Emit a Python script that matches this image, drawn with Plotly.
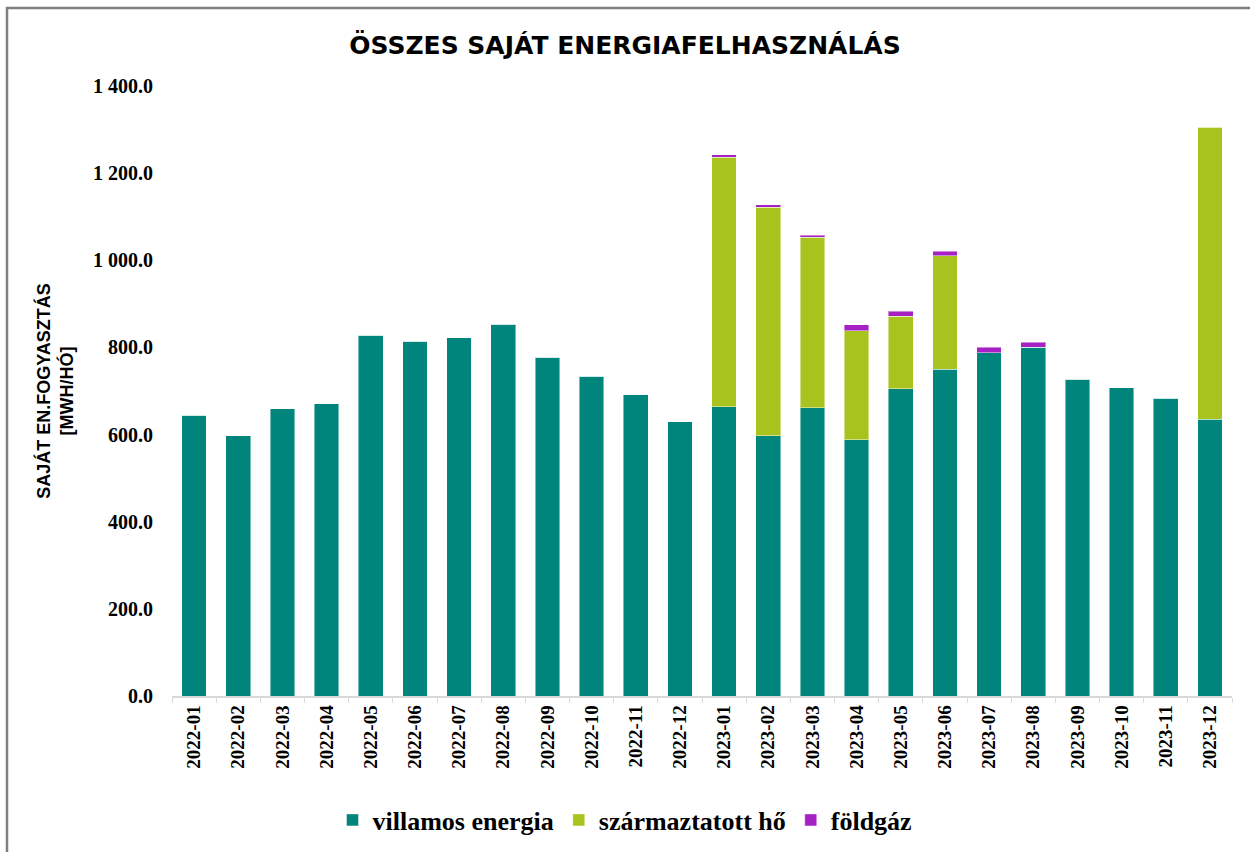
import plotly.graph_objects as go

months = ["2022-01", "2022-02", "2022-03", "2022-04", "2022-05", "2022-06",
          "2022-07", "2022-08", "2022-09", "2022-10", "2022-11", "2022-12",
          "2023-01", "2023-02", "2023-03", "2023-04", "2023-05", "2023-06",
          "2023-07", "2023-08", "2023-09", "2023-10", "2023-11", "2023-12"]

villamos_energia = [644, 597, 659, 671, 828, 814, 822, 853, 777, 734, 691, 630,
                    664, 597, 661, 588, 705, 750, 788, 800, 727, 708, 683, 635]
szarmaztatott_ho = [0, 0, 0, 0, 0, 0, 0, 0, 0, 0, 0, 0,
                    572, 525, 392, 250, 166, 260, 0, 0, 0, 0, 0, 670]
foldgaz = [0, 0, 0, 0, 0, 0, 0, 0, 0, 0, 0, 0,
           6, 5, 5, 14, 12, 11, 12, 12, 0, 0, 0, 0]

series = [
    ("villamos energia", villamos_energia, "#00857D"),
    ("származtatott hő", szarmaztatott_ho, "#A9C31E"),
    ("földgáz", foldgaz, "#A521C4"),
]

fig = go.Figure()
for name, vals, col in series:
    fig.add_trace(go.Bar(
        x=months, y=vals, name=name,
        marker=dict(color=col, line=dict(color="rgba(255,255,255,0.45)", width=1)),
        hovertemplate="%{x}: %{y:.1f}<extra>" + name + "</extra>",
    ))

W, H = 1250, 852
ml, mr, mt, mb = 172, 18, 86, 156
pw, ph = W - ml - mr, H - mt - mb

fig.update_layout(
    width=W, height=H,
    margin=dict(l=ml, r=mr, t=mt, b=mb),
    barmode="stack",
    bargap=0.44,
    paper_bgcolor="white",
    plot_bgcolor="white",
    separators=". ",
    title=dict(
        text="<b>ÖSSZES SAJÁT ENERGIAFELHASZNÁLÁS</b>",
        x=0.5, xanchor="center", xref="container",
        y=1 - 45 / H, yanchor="middle", yref="container",
        font=dict(family="DejaVu Sans", size=25, color="#000000"),
    ),
    xaxis=dict(
        type="category",
        tickangle=-90,
        showline=True, linecolor="#D9D9D9", linewidth=1.5,
        ticks="outside", tickson="boundaries", ticklen=5, tickcolor="#D9D9D9",
        tickfont=dict(family="Liberation Serif", size=19, color="#000000", weight="bold"),
        showgrid=False,
    ),
    yaxis=dict(
        range=[0, 1400], dtick=200, tickformat=",.1f",
        showgrid=False, zeroline=False, showline=False,
        ticks="outside", ticklen=14, tickcolor="rgba(0,0,0,0)",
        tickfont=dict(family="Liberation Serif", size=20, color="#000000", weight="bold"),
        title=dict(
            text="<b>SAJÁT EN.FOGYASZTÁS<br>[MWH/HÓ]</b>",
            font=dict(family="Liberation Sans", size=18, color="#000000"),
            standoff=14,
        ),
    ),
    legend=dict(
        orientation="h",
        x=0.5, xanchor="center", xref="container",
        y=1 - 820 / H, yanchor="middle", yref="container",
        font=dict(family="Liberation Serif", size=26, color="#000000", weight="bold"),
        traceorder="normal",
        itemwidth=30,
        tracegroupgap=0,
    ),
    showlegend=True,
)

# outer chart border (left & top visible, right/bottom beyond the image)
fig.add_shape(
    type="rect", xref="paper", yref="paper",
    x0=(7 - ml) / pw, x1=(W + 10 - ml) / pw,
    y0=-(H + 10 - (H - mb)) / ph, y1=(H - mb - 8) / ph,
    line=dict(color="#7F7F7F", width=2.5),
    fillcolor="rgba(0,0,0,0)", layer="below",
)

fig.write_html(
    "out.html",
    config={"displayModeBar": False},
    post_script="document.body.style.margin='0';document.body.style.overflow='hidden';",
)
